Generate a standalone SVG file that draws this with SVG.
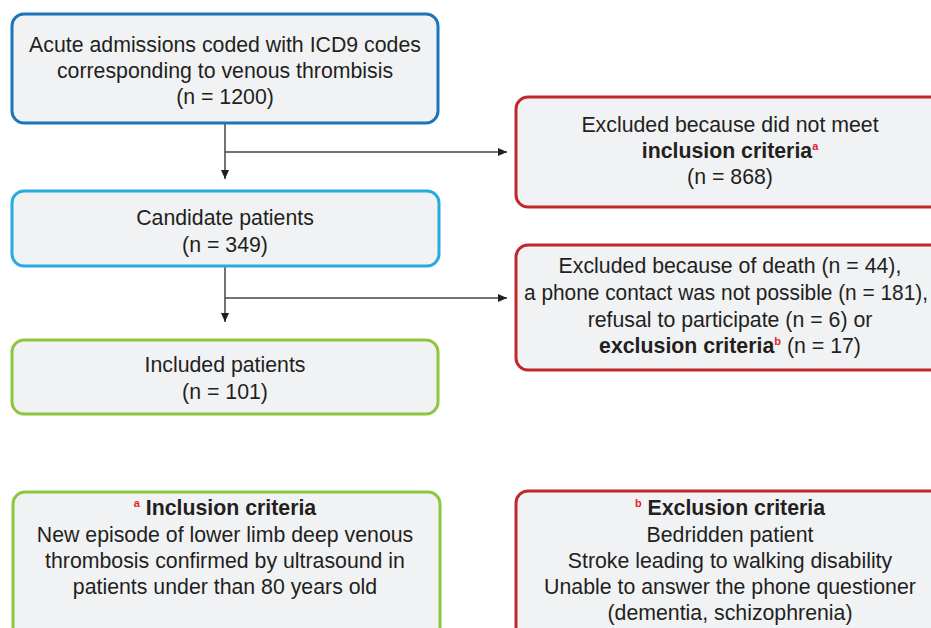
<svg xmlns="http://www.w3.org/2000/svg" width="931" height="628" viewBox="0 0 931 628">
<defs>
<marker id="arr" markerWidth="9" markerHeight="8" refX="9" refY="4" orient="auto" markerUnits="userSpaceOnUse">
<path d="M0,0 L9,4 L0,8 Z" fill="#231f20"/>
</marker>
<style>
.box{fill:#f1f2f4;stroke-width:3}
.blue{stroke:#1b75bc}
.lblue{stroke:#27aae1}
.green{stroke:#8dc63f}
.red{stroke:#c1272d}
text{font-family:"Liberation Sans",Arial,Helvetica,sans-serif;font-size:21.3px;fill:#231f20;text-anchor:middle}
.b{font-weight:bold}
.sup{font-size:11px;fill:#e2232a;font-weight:bold}
.con{fill:none;stroke:#444;stroke-width:1.5}
</style>
</defs>
<rect width="931" height="628" fill="#ffffff"/>
<g id="connectors">
<path class="con" d="M225,123 V179" marker-end="url(#arr)"/>
<path class="con" d="M225,152 H507" marker-end="url(#arr)"/>
<path class="con" d="M225,266 V322" marker-end="url(#arr)"/>
<path class="con" d="M225,298 H507" marker-end="url(#arr)"/>
</g>
<g id="node-admissions">
<rect class="box blue" x="12" y="14" width="426" height="109" rx="12"/>
<text x="225" y="52">Acute admissions coded with ICD9 codes</text>
<text x="225" y="78">corresponding to venous thrombisis</text>
<text x="225" y="104">(n = 1200)</text>
</g>
<g id="node-excluded1">
<rect class="box red" x="516" y="97" width="430" height="110" rx="12"/>
<text x="730" y="132">Excluded because did not meet</text>
<text x="730" y="158"><tspan class="b">inclusion criteria</tspan><tspan class="sup" dy="-8">a</tspan></text>
<text x="730" y="184">(n = 868)</text>
</g>
<g id="node-candidate">
<rect class="box lblue" x="12" y="191" width="427" height="75" rx="12"/>
<text x="225" y="225">Candidate patients</text>
<text x="225" y="252">(n = 349)</text>
</g>
<g id="node-excluded2">
<rect class="box red" x="516" y="245" width="430" height="125" rx="12"/>
<text x="730" y="273">Excluded because of death (n = 44),</text>
<text x="726" y="300" textLength="404" lengthAdjust="spacingAndGlyphs">a phone contact was not possible (n = 181),</text>
<text x="730" y="327">refusal to participate (n = 6) or</text>
<text x="730" y="353"><tspan class="b">exclusion criteria</tspan><tspan class="sup" dy="-8">b</tspan><tspan dy="8"> (n = 17)</tspan></text>
</g>
<g id="node-included">
<rect class="box green" x="12" y="340" width="426" height="74" rx="12"/>
<text x="225" y="372">Included patients</text>
<text x="225" y="399">(n = 101)</text>
</g>
<g id="node-inclusion-criteria">
<rect class="box green" x="13" y="492" width="427" height="160" rx="12"/>
<text x="225" y="515"><tspan class="sup" dy="-8">a</tspan><tspan class="b" dy="8"> Inclusion criteria</tspan></text>
<text x="225" y="542">New episode of lower limb deep venous</text>
<text x="225" y="568">thrombosis confirmed by ultrasound in</text>
<text x="225" y="594">patients under than 80 years old</text>
</g>
<g id="node-exclusion-criteria">
<rect class="box red" x="516" y="491" width="430" height="160" rx="12"/>
<text x="730" y="515"><tspan class="sup" dy="-8">b</tspan><tspan class="b" dy="8"> Exclusion criteria</tspan></text>
<text x="730" y="542">Bedridden patient</text>
<text x="730" y="568">Stroke leading to walking disability</text>
<text x="730" y="594">Unable to answer the phone questioner</text>
<text x="730" y="620">(dementia, schizophrenia)</text>
</g>
</svg>
